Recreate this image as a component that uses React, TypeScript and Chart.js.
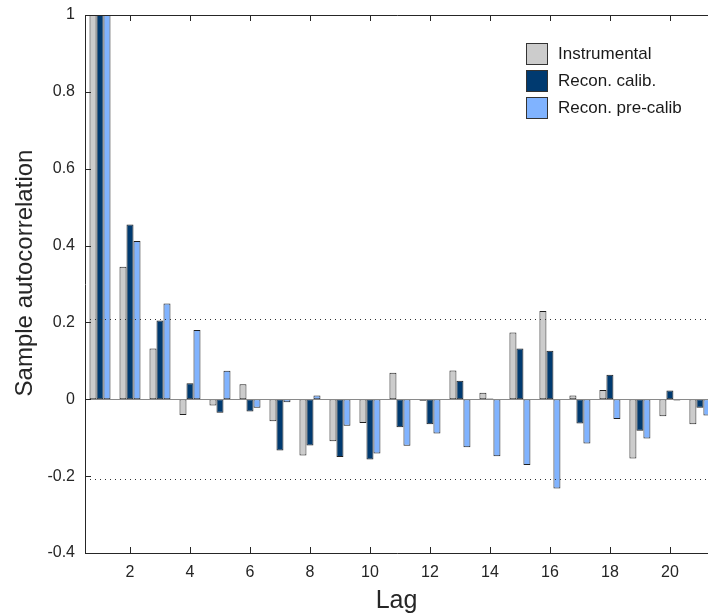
import React, { useEffect, useRef } from "react";
import { Chart, registerables } from "chart.js";

Chart.register(...registerables);

const lags = [1, 2, 3, 4, 5, 6, 7, 8, 9, 10, 11, 12, 13, 14, 15, 16, 17, 18, 19, 20, 21];
const instrumental = [1, 0.345, 0.132, -0.041, -0.016, 0.039, -0.057, -0.146, -0.109, -0.062, 0.069, -0.004, 0.075, 0.017, 0.174, 0.23, 0.01, 0.024, -0.154, -0.044, -0.065];
const reconCalib = [1, 0.455, 0.205, 0.042, -0.035, -0.032, -0.133, -0.12, -0.15, -0.157, -0.073, -0.065, 0.048, 0.002, 0.132, 0.126, -0.063, 0.064, -0.082, 0.023, -0.022];
const reconPreCalib = [1, 0.412, 0.249, 0.18, 0.074, -0.022, -0.008, 0.01, -0.069, -0.141, -0.121, -0.089, -0.125, -0.148, -0.171, -0.232, -0.115, -0.051, -0.102, -0.003, -0.042];
const seriesNames = ["Instrumental", "Recon. calib.", "Recon. pre-calib"];
const seriesColors = ["#cccccc", "#003a70", "#80b3ff"];
const xTicks = [2, 4, 6, 8, 10, 12, 14, 16, 18, 20];
const confBound = 0.208;
const yTitle = "Sample autocorrelation";
const xTitle = "Lag";

const FONT = "'Liberation Sans', Arial, Helvetica, sans-serif";

const decorPlugin = {
  id: "decor",
  afterDatasetsDraw(chart: any) {
    const { ctx, chartArea } = chart;
    const { left, right, top, bottom } = chartArea;
    const xs = chart.scales.x;
    const ys = chart.scales.y;
    ctx.save();
    // confidence bounds
    ctx.strokeStyle = "#333333";
    ctx.lineWidth = 1;
    ctx.setLineDash([1, 4]);
    [confBound, -confBound].forEach((v) => {
      const y = Math.round(ys.getPixelForValue(v)) + 0.5;
      ctx.beginPath();
      ctx.moveTo(left, y);
      ctx.lineTo(right, y);
      ctx.stroke();
    });
    ctx.setLineDash([]);
    // zero line
    const y0 = Math.round(ys.getPixelForValue(0)) + 0.5;
    ctx.strokeStyle = "#8a8a8a";
    ctx.lineWidth = 1.2;
    ctx.beginPath();
    ctx.moveTo(left, y0);
    ctx.lineTo(right, y0);
    ctx.stroke();
    // box
    ctx.strokeStyle = "#262626";
    ctx.lineWidth = 1;
    ctx.beginPath();
    ctx.moveTo(Math.round(left) + 0.5, Math.round(top) + 0.5);
    ctx.lineTo(right + 2, Math.round(top) + 0.5);
    ctx.moveTo(Math.round(left) + 0.5, Math.round(top) + 0.5);
    ctx.lineTo(Math.round(left) + 0.5, Math.round(bottom) + 0.5);
    ctx.lineTo(right + 2, Math.round(bottom) + 0.5);
    ctx.stroke();
    // inward ticks
    const tl = 6;
    ctx.beginPath();
    xTicks.forEach((t) => {
      const x = Math.round(xs.getPixelForValue(t)) + 0.5;
      ctx.moveTo(x, bottom);
      ctx.lineTo(x, bottom - tl);
      ctx.moveTo(x, top);
      ctx.lineTo(x, top + tl);
    });
    ys.ticks.forEach((t: any) => {
      const y = Math.round(ys.getPixelForValue(t.value)) + 0.5;
      ctx.moveTo(left, y);
      ctx.lineTo(left + tl, y);
    });
    ctx.stroke();
    // y title
    ctx.save();
    ctx.translate(25, 273);
    ctx.rotate(-Math.PI / 2);
    ctx.font = `24px ${FONT}`;
    ctx.fillStyle = "#262626";
    ctx.textAlign = "center";
    ctx.textBaseline = "middle";
    ctx.fillText(yTitle, 0, 0);
    ctx.restore();
    // legend
    const lx = 526;
    let ly = 43;
    ctx.font = `17px ${FONT}`;
    ctx.textBaseline = "middle";
    ctx.textAlign = "left";
    chart.data.datasets.forEach((ds: any) => {
      ctx.fillStyle = ds.backgroundColor;
      ctx.fillRect(lx, ly, 21, 21);
      ctx.strokeStyle = "#333333";
      ctx.lineWidth = 1;
      ctx.strokeRect(lx + 0.5, ly + 0.5, 21, 21);
      ctx.fillStyle = "#1a1a1a";
      ctx.fillText(ds.label, lx + 32, ly + 11);
      ly += 27;
    });
    ctx.restore();
  },
};

export default function App() {
  const ref = useRef<HTMLCanvasElement>(null);
  useEffect(() => {
    if (!ref.current) return;
    const series = [instrumental, reconCalib, reconPreCalib];
    const chart = new Chart(ref.current, {
      type: "bar",
      data: {
        datasets: series.map((vals, i) => ({
          label: seriesNames[i],
          data: lags.map((l, j) => ({ x: l, y: vals[j] })),
          backgroundColor: seriesColors[i],
          borderColor: "#1f1f1f",
          borderWidth: 1,
          borderSkipped: false,
          categoryPercentage: 0.7,
          barPercentage: 1,
        })),
      },
      options: {
        responsive: false,
        animation: false,
        devicePixelRatio: 1,
        layout: { padding: { top: 15, left: 0, right: 0, bottom: 0 } },
        plugins: { legend: { display: false }, tooltip: { enabled: false } },
        scales: {
          x: {
            type: "linear",
            offset: false,
            min: 0.5,
            max: 21.27,
            grid: { display: false, drawTicks: false, offset: false },
            border: { display: false },
            afterBuildTicks: (scale: any) => {
              scale.ticks = xTicks.map((v) => ({ value: v }));
            },
            afterFit: (scale: any) => {
              scale.height = 63;
              scale.paddingLeft = 0;
              scale.paddingRight = 0;
            },
            ticks: {
              padding: 10,
              maxRotation: 0,
              autoSkip: false,
              color: "#262626",
              font: { family: FONT, size: 16 },
              callback: (v: any) => String(v),
            },
            title: {
              display: true,
              text: xTitle,
              color: "#262626",
              font: { family: FONT, size: 25 },
              padding: { top: 0, bottom: 0 },
            },
          },
          y: {
            min: -0.4,
            max: 1,
            grid: { display: false, drawTicks: false },
            border: { display: false },
            afterFit: (scale: any) => {
              scale.width = 85;
              scale.paddingTop = 0;
              scale.paddingBottom = 0;
            },
            ticks: {
              stepSize: 0.2,
              padding: 10,
              color: "#262626",
              font: { family: FONT, size: 16 },
              callback: (v: any) => {
                const n = Math.round(Number(v) * 10) / 10;
                return n === 0 ? "0" : String(n);
              },
            },
          },
        },
      },
      plugins: [decorPlugin],
    } as any);
    return () => chart.destroy();
  }, []);
  return (
    <div style={{ position: "fixed", left: 0, top: 0, width: 708, height: 616 }}>
      <canvas ref={ref} width={708} height={616} />
    </div>
  );
}
